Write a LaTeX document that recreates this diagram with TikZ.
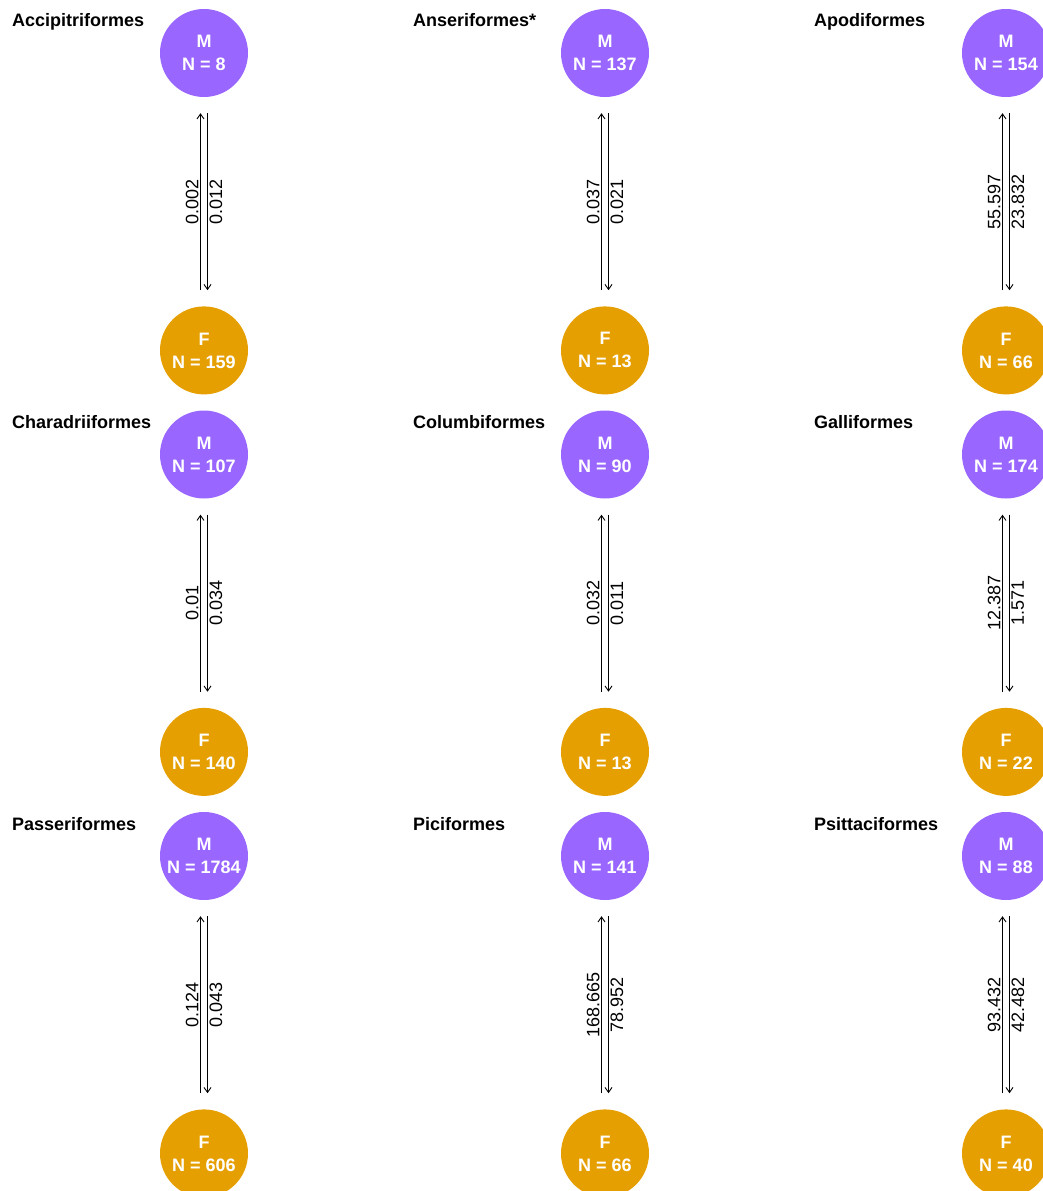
\documentclass[tikz,border=0pt]{standalone}
\usepackage{fontspec}
\setmainfont{Liberation Sans}
\usetikzlibrary{positioning, arrows.meta}
\definecolor{male}{RGB}{153, 102, 255}
\definecolor{female}{RGB}{230, 159, 0}

\begin{document}
\begin{tikzpicture}[
  x=1pt, y=1pt,
  node distance=209pt,
  every node/.style={font=\fontsize{18}{22}\selectfont},
  sexnode/.style={
    circle, minimum size=88pt, inner sep=0pt,
    text=white, align=center,
    font=\fontsize{18}{23}\selectfont\bfseries,
  },
  malenode/.style={sexnode, fill=male},
  femalenode/.style={sexnode, fill=female},
  order/.style={font=\fontsize{18}{22}\selectfont\bfseries, anchor=base west, inner sep=0pt},
  arr/.style={-{Straight Barb[length=5pt, width=7pt]}, line width=0.9pt, shorten <=16pt, shorten >=16pt},
  rate/.style={midway, rotate=90, inner sep=1.5pt},
]
  \useasboundingbox (0,0) rectangle (1043,-1191);

  \foreach \name/\col/\row/\nm/\nf/\mf/\fm [count=\i] in {
    Accipitriformes/0/0/8/159/0.002/0.012,
    Anseriformes*/1/0/137/13/0.037/0.021,
    Apodiformes/2/0/154/66/55.597/23.832,
    Charadriiformes/0/1/107/140/0.01/0.034,
    Columbiformes/1/1/90/13/0.032/0.011,
    Galliformes/2/1/174/22/12.387/1.571,
    Passeriformes/0/2/1784/606/0.124/0.043,
    Piciformes/1/2/141/66/168.665/78.952,
    Psittaciformes/2/2/88/40/93.432/42.482}
  {
    \node[malenode] (m\i) at (204+401*\col, -53-401.5*\row) {M\\N = \nm};
    \node[femalenode, below=of m\i] (f\i) {F\\N = \nf};
    \node[order] (t\i) at ([xshift=-192pt, yshift=26pt]m\i.center) {\name};
    \draw[arr] ([xshift=-3.5pt]f\i.north) -- node[rate, anchor=south] {\mf} ([xshift=-3.5pt]m\i.south);
    \draw[arr] ([xshift=3.5pt]m\i.south) -- node[rate, anchor=north] {\fm} ([xshift=3.5pt]f\i.north);
  }
\end{tikzpicture}
\end{document}
